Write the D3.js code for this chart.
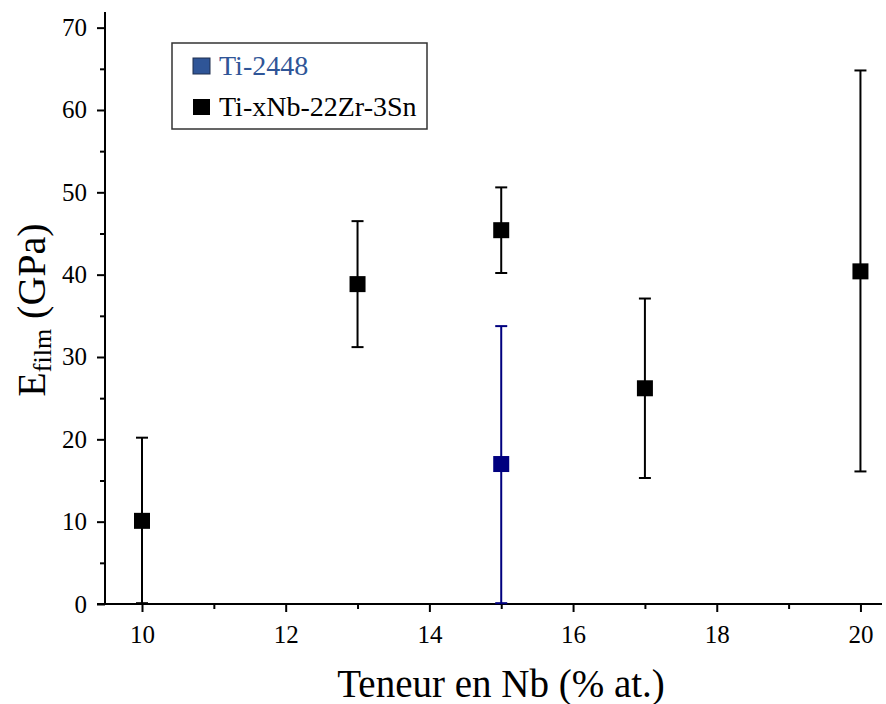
<!DOCTYPE html>
<html><head><meta charset="utf-8">
<script src="https://cdn.jsdelivr.net/npm/d3@7"></script>
<style>body{margin:0;background:#fff;} svg{display:block;}</style>
</head><body><svg id="c" width="886" height="704"></svg>
<script>
const seriesNames = ["Ti-2448", "Ti-xNb-22Zr-3Sn"];
const blackX = [10, 13, 15, 17, 20];
const blackY = [10.1, 38.85, 45.4, 26.2, 40.4];
const blackErrLow = [10.0, 7.65, 5.2, 10.9, 24.3];
const blackErrHigh = [10.1, 7.65, 5.2, 10.9, 24.4];
const blueX = [15];
const blueY = [17.0];
const blueErrLow = [16.9];
const blueErrHigh = [16.75];
const xTicks = [10, 12, 14, 16, 18, 20];
const yTicks = [0, 10, 20, 30, 40, 50, 60, 70];

const FONT = "'Liberation Serif', 'Times New Roman', Times, 'DejaVu Serif', serif";
const svg = d3.select("#c").attr("font-family", FONT);
const x = d3.scaleLinear().domain([9.485, 20.3]).range([105, 882]);
const y = d3.scaleLinear().domain([0, 71.9]).range([604, 12]);

// axes
const xAxis = d3.axisBottom(x).tickValues(xTicks).tickFormat(d3.format("d")).tickSize(8).tickPadding(13);
const gx = svg.append("g").attr("transform", "translate(0,604)").call(xAxis);
gx.select(".domain").attr("d", `M${x.range()[0]-8},0H${x.range()[1]}`);
gx.selectAll(".tick line").attr("stroke-width", 2);
gx.selectAll("text").attr("font-size", 25).attr("font-family", FONT).attr("fill", "#000");
const xMinor = d3.axisBottom(x).tickValues([11, 13, 15, 17, 19]).tickFormat("").tickSize(5);
svg.append("g").attr("transform", "translate(0,604)").call(xMinor).call(g => g.select(".domain").remove()).selectAll("line").attr("stroke-width", 2);

const yAxis = d3.axisLeft(y).tickValues(yTicks).tickFormat(d3.format("d")).tickSize(8).tickPadding(10);
const gy = svg.append("g").attr("transform", "translate(105,0)").call(yAxis);
gy.select(".domain").attr("d", `M0,${y.range()[0]}V${y.range()[1]}`);
gy.selectAll(".tick line").attr("stroke-width", 2);
gy.selectAll("text").attr("font-size", 25).attr("font-family", FONT).attr("fill", "#000");
const yMinor = d3.axisLeft(y).tickValues([5, 15, 25, 35, 45, 55, 65]).tickFormat("").tickSize(5);
svg.append("g").attr("transform", "translate(105,0)").call(yMinor).call(g => g.select(".domain").remove()).selectAll("line").attr("stroke-width", 2);
svg.selectAll(".domain").attr("stroke-width", 2);

// error bars and markers
function drawSeries(xs, ys, lo, hi, color) {
  const g = svg.append("g");
  xs.forEach((xv, i) => {
    const cx = x(xv), yl = y(ys[i] - lo[i]), yh = y(ys[i] + hi[i]);
    g.append("line").attr("x1", cx).attr("x2", cx).attr("y1", yl).attr("y2", yh).attr("stroke", color).attr("stroke-width", 2);
    [yl, yh].forEach(yy => g.append("line").attr("x1", cx - 6).attr("x2", cx + 6).attr("y1", yy).attr("y2", yy).attr("stroke", color).attr("stroke-width", 2));
    g.append("rect").attr("x", cx - 8).attr("y", y(ys[i]) - 8).attr("width", 16).attr("height", 16).attr("fill", color);
  });
}
drawSeries(blackX, blackY, blackErrLow, blackErrHigh, "#000");
drawSeries(blueX, blueY, blueErrLow, blueErrHigh, "#00007f");

// legend
const lg = svg.append("g");
lg.append("rect").attr("x", 172).attr("y", 43).attr("width", 255).attr("height", 86).attr("fill", "#fff").attr("stroke", "#333").attr("stroke-width", 1.5);
const legendColors = ["#2f5597", "#000"];
const legendText = ["#2f5597", "#000"];
const legendBase = [75, 116];
seriesNames.forEach((n, i) => {
  const yy = legendBase[i];
  lg.append("rect").attr("x", 193).attr("y", yy - 17).attr("width", 17).attr("height", 16).attr("fill", legendColors[i]).attr("stroke", i === 0 ? "#1f2f4f" : "none").attr("stroke-width", 1);
  lg.append("text").attr("x", 219).attr("y", yy).attr("font-size", 28).attr("font-family", FONT).attr("fill", legendText[i]).text(n);
});

// axis titles
svg.append("text").attr("x", 501).attr("y", 697).attr("text-anchor", "middle").attr("font-size", 39).attr("font-family", FONT).attr("fill", "#000").text("Teneur en Nb (% at.)");
const yt = svg.append("text").attr("transform", "translate(45,310) rotate(-90)").attr("text-anchor", "middle").attr("font-size", 40).attr("font-family", FONT).attr("fill", "#000");
yt.append("tspan").text("E");
yt.append("tspan").attr("font-size", 26).attr("dy", 6).text("film");
yt.append("tspan").attr("dy", -6).text(" (GPa)");
</script></body></html>
